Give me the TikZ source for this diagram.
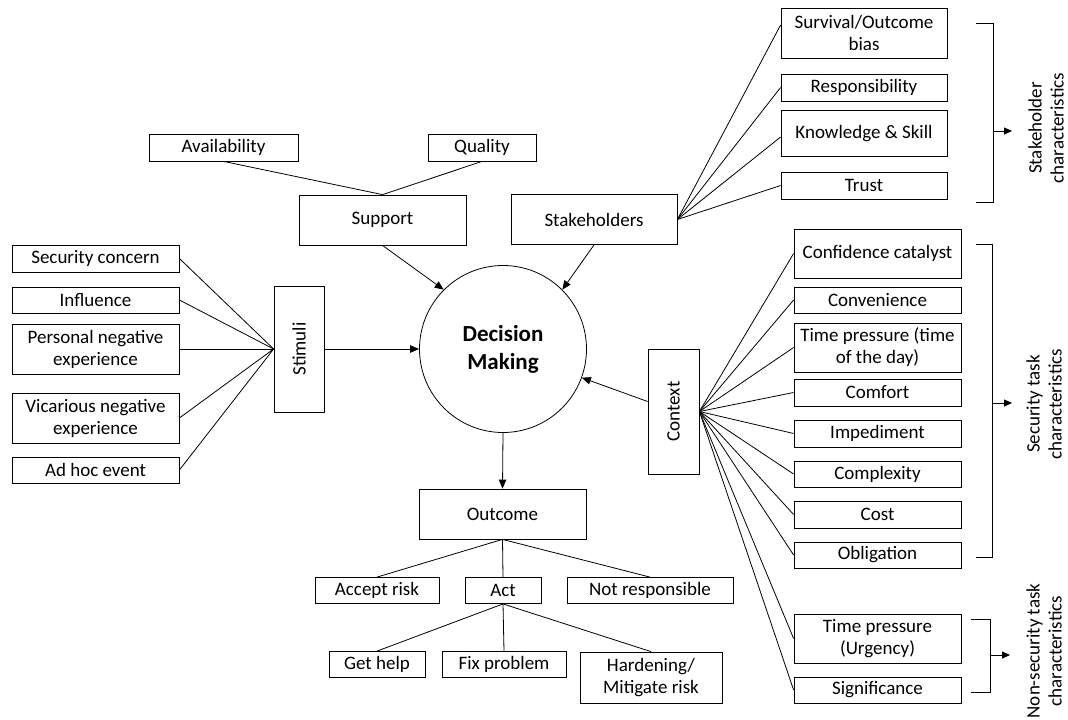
\documentclass[tikz,border=0pt]{standalone}
\usepackage{fontspec}
\setmainfont{Carlito}
\usetikzlibrary{arrows.meta,calc}
\newcommand{\fsz}{\fontsize{19}{22}\selectfont}
\newcommand{\fbig}{\fontsize{23}{28}\selectfont\bfseries}
\begin{document}
\begin{tikzpicture}[x=1pt,y=-1pt,
 box/.style={draw, line width=0.8pt, inner sep=0pt, align=center, font=\fsz},
 conn/.style={line width=0.8pt},
 arr/.style={line width=0.8pt, -{Triangle[length=9pt,width=7.5pt]}},
 barr/.style={line width=0.8pt, -{Triangle[length=8pt,width=7pt]}},
 lab/.style={font=\fsz, align=center, rotate=90, inner sep=0pt}]
\useasboundingbox[fill=white] (0,0) rectangle (1068,720);

% central
\node[circle,draw,line width=0.8pt,minimum size=167,inner sep=0pt,align=center,font=\fbig] (dm) at (503,349) {Decision\\Making};

% support
\node[box,minimum width=149,minimum height=27] (avail) at (223.5,147.5) {Availability};
\node[box,minimum width=108,minimum height=27] (qual) at (482,147.5) {Quality};
\node[box,minimum width=167,minimum height=50] (support) at (382.5,220) {Support};
\draw[conn] (avail.south) -- (support.north);
\draw[conn] (qual.south) -- (support.north);
\draw[arr] (support.south) -- (dm.135);

% stakeholders
\node[box,minimum width=166,minimum height=50] (stake) at (594,219.5) {Stakeholders};
\node[box,minimum width=166,minimum height=50] (surv) at (864,33) {Survival/Outcome\\bias};
\node[box,minimum width=166,minimum height=27] (resp) at (864,87.5) {Responsibility};
\node[box,minimum width=166,minimum height=46] (know) at (864,133.5) {Knowledge \& Skill};
\node[box,minimum width=166,minimum height=27] (trust) at (864,185.5) {Trust};
\draw[conn] (stake.east) -- ($(surv.west)+(0,-8)$);
\draw[conn] (stake.east) -- (resp.west);
\draw[conn] (stake.east) -- ($(know.west)+(0,3.5)$);
\draw[conn] (stake.east) -- (trust.west);
\draw[arr] (stake.south) -- (dm.45);

% stimuli
\node[box,minimum width=50,minimum height=126] (stim) at (299,349) {\rotatebox{90}{Stimuli}};
\node[box,minimum width=167,minimum height=27] (secc) at (95.5,258.5) {Security concern};
\node[box,minimum width=167,minimum height=26] (infl) at (95.5,300) {Influence};
\node[box,minimum width=167,minimum height=50] (pers) at (95.5,349) {Personal negative\\experience};
\node[box,minimum width=167,minimum height=50] (vica) at (95.5,418) {Vicarious negative\\experience};
\node[box,minimum width=167,minimum height=26] (adhoc) at (95.5,470) {Ad hoc event};
\foreach \n in {secc,infl,pers,vica,adhoc} \draw[conn] (\n.east) -- (stim.west);
\draw[arr] (stim.east) -- (dm.west);

% context
\node[box,minimum width=51,minimum height=125] (ctx) at (673.5,411.5) {\rotatebox{90}{Context}};
\node[box,minimum width=167,minimum height=49] (conf) at (877.5,253.5) {Confidence catalyst};
\node[box,minimum width=167,minimum height=26] (conv) at (877.5,300) {Convenience};
\node[box,minimum width=167,minimum height=49] (timep) at (877.5,347.5) {Time pressure (time\\of the day)};
\node[box,minimum width=167,minimum height=27] (comf) at (877.5,392.5) {Comfort};
\node[box,minimum width=167,minimum height=27] (imped) at (877.5,433.5) {Impediment};
\node[box,minimum width=167,minimum height=26] (compl) at (877.5,474) {Complexity};
\node[box,minimum width=167,minimum height=27] (cost) at (877.5,514.5) {Cost};
\node[box,minimum width=167,minimum height=26] (oblig) at (877.5,555) {Obligation};
\node[box,minimum width=167,minimum height=49] (urg) at (877.5,638.5) {Time pressure\\(Urgency)};
\node[box,minimum width=167,minimum height=26] (signi) at (877.5,690) {Significance};
\foreach \n in {conf,conv,timep,comf,imped,compl,cost,oblig,urg,signi} \draw[conn] (ctx.east) -- (\n.west);
\draw[arr] ($(ctx.west)+(0,-10)$) -- (dm.-20);

% outcome
\node[box,minimum width=167,minimum height=50] (outc) at (502.5,514) {Outcome};
\node[box,minimum width=124,minimum height=26] (accept) at (377,590.5) {Accept risk};
\node[box,minimum width=76,minimum height=26] (act) at (503,590.5) {Act};
\node[box,minimum width=166,minimum height=26] (notr) at (650,590.5) {Not responsible};
\node[box,minimum width=96,minimum height=26] (geth) at (377,664.5) {Get help};
\node[box,minimum width=124,minimum height=26] (fixp) at (504,664.5) {Fix problem};
\node[box,minimum width=142,minimum height=51] (hard) at (651,677.5) {Hardening/\\Mitigate risk};
\draw[arr] (dm.south) -- (outc.north);
\draw[conn] (outc.south) -- (accept.north);
\draw[conn] (outc.south) -- (act.north);
\draw[conn] (outc.south) -- (notr.north);
\draw[conn] (act.south) -- (geth.north);
\draw[conn] (act.south) -- (fixp.north);
\draw[conn] (act.south) -- (hard.north);

% brackets
\coordinate (b1a) at (976,23); \coordinate (b1b) at (993,23);
\coordinate (b1c) at (993,202); \coordinate (b1d) at (976,202);
\coordinate (b1m) at (993,131); \coordinate (b1e) at (1012,131);
\draw[conn] (b1a) -- (b1b) -- (b1c) -- (b1d);
\draw[barr] (b1m) -- (b1e);
\node[lab] (l1) at (1046,128) {Stakeholder\\characteristics};

\coordinate (b2a) at (976,244); \coordinate (b2b) at (992,244);
\coordinate (b2c) at (992,557); \coordinate (b2d) at (976,557);
\coordinate (b2m) at (992,403); \coordinate (b2e) at (1012,403);
\draw[conn] (b2a) -- (b2b) -- (b2c) -- (b2d);
\draw[barr] (b2m) -- (b2e);
\node[lab] (l2) at (1044,404) {Security task\\characteristics};

\coordinate (b3a) at (971,619); \coordinate (b3b) at (990,619);
\coordinate (b3c) at (990,692); \coordinate (b3d) at (971,692);
\coordinate (b3m) at (990,655); \coordinate (b3e) at (1010,655);
\draw[conn] (b3a) -- (b3b) -- (b3c) -- (b3d);
\draw[barr] (b3m) -- (b3e);
\node[lab] (l3) at (1044,651) {Non-security task\\characteristics};
\end{tikzpicture}
\end{document}
